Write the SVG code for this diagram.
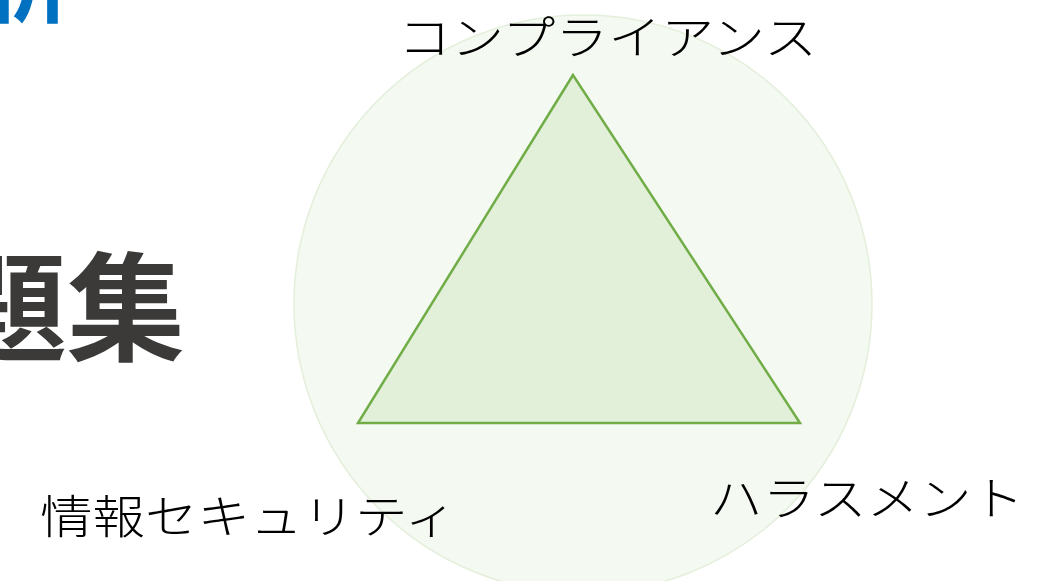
<svg xmlns="http://www.w3.org/2000/svg" width="1057" height="581" viewBox="0 0 1057 581">
<style>
.lbl{font-family:"Noto Sans CJK JP","Noto Sans",sans-serif;font-size:46px;font-weight:300;fill:#000}
.big{font-family:"Noto Sans CJK JP","Noto Sans",sans-serif;font-weight:700;}
</style>
<rect width="1057" height="581" fill="#ffffff"/>
<g id="title">
<text class="big" x="72" y="15" font-size="90" fill="#0070c0" text-anchor="end">析</text>
<text class="big" x="185" y="352" font-size="118" fill="#3b3a39" text-anchor="end">題集</text>
</g>
<g id="circle">
<circle cx="583" cy="304" r="289" fill="#f4f9f1" stroke="#e4efdc" stroke-width="1.5"/>
</g>
<g id="triangle">
<polygon points="573,75 358,423 800,423" fill="#e2efd9" stroke="#70ad47" stroke-width="2.5" stroke-linejoin="miter"/>
</g>
<g id="labels">
<text id="compliance" class="lbl" x="398" y="54" textLength="419" lengthAdjust="spacingAndGlyphs">コンプライアンス</text>
<text id="security" class="lbl" x="40" y="533" textLength="417" lengthAdjust="spacingAndGlyphs">情報セキュリティ</text>
<text id="harassment" class="lbl" x="710" y="515" textLength="314" lengthAdjust="spacingAndGlyphs">ハラスメント</text>
</g>
</svg>
